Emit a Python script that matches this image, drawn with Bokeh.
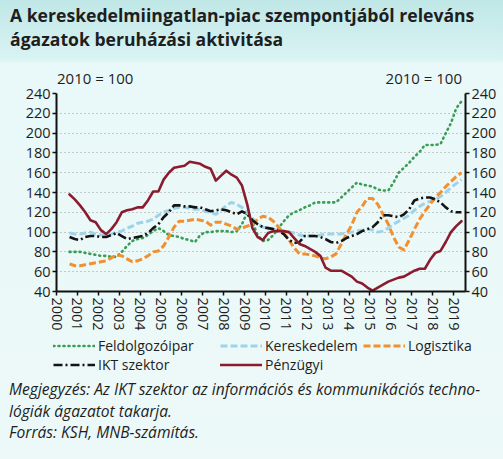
from bokeh.plotting import figure
from bokeh.models import (Range1d, LinearAxis, FixedTicker, Legend, LegendItem, Div,
                          ColumnDataSource, GlobalInlineStyleSheet)
from bokeh.layouts import column
from bokeh.embed import file_html
from bokeh.resources import INLINE

# ---------------- data ----------------
title_lines = ["A kereskedelmiingatlan-piac szempontjából releváns",
               "ágazatok beruházási aktivitása"]
base_label = "2010 = 100"
note_lines = ["Megjegyzés: Az IKT szektor az információs és kommunikációs techno-",
              "lógiák ágazatot takarja.",
              "Forrás: KSH, MNB-számítás."]
year_ticks = list(range(2000, 2020))
value_ticks = [40, 60, 80, 100, 120, 140, 160, 180, 200, 220, 240]
first_year = 2000
first_quarter = 3

feldolgozoipar = [80, 80, 80, 79, 78, 77, 76, 76, 75, 75, 80, 86, 91, 93, 94, 97,
                  101, 104, 101, 97, 96, 95, 93, 92, 90, 97, 100, 100, 101, 101, 101, 100,
                  101, 108, 120, 110, 97, 91, 92, 97, 104, 111, 117, 120, 122, 125, 127, 130,
                  130, 130, 130, 130, 135, 140, 145, 150, 148, 147, 146, 143, 142, 142, 150, 160,
                  165, 170, 176, 181, 188, 188, 188, 189, 200, 210, 225, 232]
kereskedelem = [99, 98, 98, 99, 100, 98, 97, 97, 98, 100, 101, 104, 106, 109, 110, 111,
                113, 117, 120, 122, 124, 125, 125, 124, 123, 123, 121, 120, 118, 122, 127, 130,
                128, 125, 120, 114, 108, 105, 104, 103, 102, 101, 100, 99, 97, 96, 96, 96,
                97, 98, 98, 98, 98, 99, 100, 101, 102, 103, 102, 100, 101, 104, 108, 111,
                114, 117, 122, 126, 129, 131, 133, 136, 140, 145, 149, 153]
logisztika = [68, 66, 66, 67, 68, 69, 70, 71, 74, 77, 76, 73, 70, 71, 73, 76,
              80, 81, 86, 95, 105, 111, 111, 112, 113, 112, 111, 107, 110, 110, 108, 106,
              103, 104, 106, 108, 113, 116, 115, 111, 105, 99, 92, 84, 78, 78, 77, 76,
              74, 73, 75, 78, 88, 98, 107, 120, 126, 134, 134, 128, 118, 108, 95, 85,
              82, 92, 103, 113, 121, 128, 135, 140, 146, 151, 156, 160]
ikt_szektor = [95, 93, 92, 95, 96, 96, 95, 95, 97, 99, 96, 93, 94, 95, 96, 99,
               104, 108, 115, 120, 127, 127, 126, 126, 125, 125, 123, 121, 122, 123, 122, 120,
               118, 121, 118, 112, 108, 105, 104, 103, 101, 98, 92, 89, 90, 96, 96, 96,
               95, 93, 90, 89, 91, 94, 96, 98, 101, 103, 105, 110, 117, 117, 116, 115,
               118, 123, 132, 134, 135, 135, 133, 130, 125, 121, 120, 120]
penzugyi = [138, 133, 127, 120, 112, 110, 102, 98, 103, 110, 120, 122, 123, 125, 125, 132,
            141, 141, 153, 160, 165, 166, 167, 171, 170, 169, 166, 164, 152, 157, 162, 158,
            155, 147, 128, 104, 95, 92, 99, 101, 101, 101, 100, 94, 88, 86, 83, 80,
            76, 64, 61, 61, 61, 58, 55, 50, 48, 44, 41, 44, 47, 50, 52, 54,
            55, 58, 61, 63, 63, 72, 79, 81, 90, 100, 106, 111]

series_names = ["Feldolgozóipar", "Kereskedelem", "Logisztika", "IKT szektor", "Pénzügyi"]
series_values = [feldolgozoipar, kereskedelem, logisztika, ikt_szektor, penzugyi]

# ---------------- styling ----------------
FONT = "Open Sans"
TXT = "#1e1e1e"
W = 503
colors = ["#3a9d55", "#9ed3ea", "#f2902f", "#141414", "#8b1c2f"]
dashes = ["1 4", "7 3", "7 3", "9 3 2 3", "solid"]
widths = [2.6, 3.0, 3.0, 2.6, 2.6]
caps = ["round", "butt", "butt", "butt", "round"]
# legend entry anchors in the legend strip (px from its left / bottom)
legend_pos = [(53, 22), (220, 22), (363, 22), (53, 3), (220, 3)]

# quarter mid-points on the time axis
quarter_x = []
for k in range(len(penzugyi)):
    idx = (first_quarter - 1) + k
    yr = first_year + idx // 4
    q = idx % 4 + 1
    quarter_x.append(yr + (q - 0.5) / 4)
sources = [ColumnDataSource(dict(x=quarter_x, y=vals)) for vals in series_values]

# ---------------- header (title + base labels) ----------------
header_html = (
    f'<div style="position:relative;width:{W}px;height:88px;font-family:\'{FONT}\';color:{TXT};">'
    f'<div style="position:absolute;left:10px;top:3px;font-size:17.6px;font-weight:bold;'
    f'line-height:24px;white-space:nowrap;">{title_lines[0]}<br>{title_lines[1]}</div>'
    f'<div style="position:absolute;left:57px;top:69px;font-size:15px;line-height:18px;'
    f'white-space:nowrap;">{base_label}</div>'
    f'<div style="position:absolute;right:41px;top:69px;font-size:15px;line-height:18px;'
    f'white-space:nowrap;">{base_label}</div></div>')
header = Div(text=header_html, width=W, height=88, margin=0)

# ---------------- main plot ----------------
p = figure(width=W, height=252, x_range=Range1d(2000, 2019.57), y_range=Range1d(40, 240),
           toolbar_location=None, output_backend="svg",
           min_border_left=56, min_border_right=38, min_border_top=12, min_border_bottom=40,
           background_fill_color=None, border_fill_color=None, outline_line_color=None,
           margin=(-7, 0, 0, 0), frame_align=False)

for src, c, d, w, cap in zip(sources, colors, dashes, widths, caps):
    p.line("x", "y", source=src, line_color=c, line_width=w, line_dash=d, line_cap=cap,
           line_join="round")

p.xaxis.ticker = FixedTicker(ticks=year_ticks)
p.yaxis.ticker = FixedTicker(ticks=value_ticks)
right = LinearAxis(ticker=FixedTicker(ticks=value_ticks))
p.add_layout(right, "right")

for ax in p.axis:
    ax.axis_line_color = "#111111"
    ax.axis_line_width = 2
    ax.major_tick_line_color = "#111111"
    ax.major_tick_line_width = 1.5
    ax.major_tick_out = 4
    ax.major_tick_in = 0
    ax.minor_tick_line_color = None
    ax.major_label_text_font = FONT
    ax.major_label_text_color = TXT
    ax.major_label_text_font_size = "14.5px"
    ax.major_label_standoff = 2
p.xaxis.major_label_orientation = "vertical"

p.xgrid.visible = False
p.ygrid.ticker = FixedTicker(ticks=value_ticks)
p.ygrid.grid_line_color = "#9a9a9a"
p.ygrid.grid_line_dash = "1 3"
p.ygrid.grid_line_width = 1

# ---------------- legend strip (same series, drawn outside its view) ----------------
lp = figure(width=W, height=44, x_range=Range1d(0, 1), y_range=Range1d(0, 1),
            toolbar_location=None, output_backend="svg",
            x_axis_type=None, y_axis_type=None, min_border=0,
            min_border_left=0, min_border_right=0, min_border_top=0, min_border_bottom=0,
            background_fill_color=None, border_fill_color=None, outline_line_color=None,
            margin=0, frame_align=False)
lp.grid.visible = False
for name, src, c, d, w, cap, loc in zip(series_names, sources, colors, dashes, widths,
                                        caps, legend_pos):
    r = lp.line("x", "y", source=src, line_color=c, line_width=w, line_dash=d, line_cap=cap)
    lg = Legend(items=[LegendItem(label=name, renderers=[r])], location=loc,
                orientation="horizontal", margin=0, padding=0, spacing=0,
                glyph_width=42, glyph_height=17, label_height=17, label_width=0,
                label_standoff=3, label_text_font=FONT, label_text_font_size="14px",
                label_text_color=TXT, background_fill_alpha=0, border_line_color=None)
    lp.add_layout(lg, "center")

# ---------------- notes ----------------
notes_html = (
    f'<div style="position:relative;width:{W}px;height:82px;font-family:\'{FONT}\';color:{TXT};'
    f'font-style:italic;font-size:15.6px;line-height:21.5px;white-space:nowrap;">'
    f'<div style="position:absolute;left:9px;top:2px;">{note_lines[0]}<br>{note_lines[1]}</div>'
    f'<div style="position:absolute;left:9px;top:45px;">{note_lines[2]}</div></div>')
notes = Div(text=notes_html, width=W, height=82, margin=0)

bg = GlobalInlineStyleSheet(css="html{min-height:100%;background:linear-gradient(180deg,#c0e7e7 0px,#d1efef 40px,#daf3f3 60px,#e9f8f8 63px,#edf9f9 100%) no-repeat;background-color:#edf9f9;} body{background:transparent;}")
layout = column(header, p, lp, notes, spacing=0, stylesheets=[bg])

open("out.html", "w").write(file_html(layout, INLINE))
